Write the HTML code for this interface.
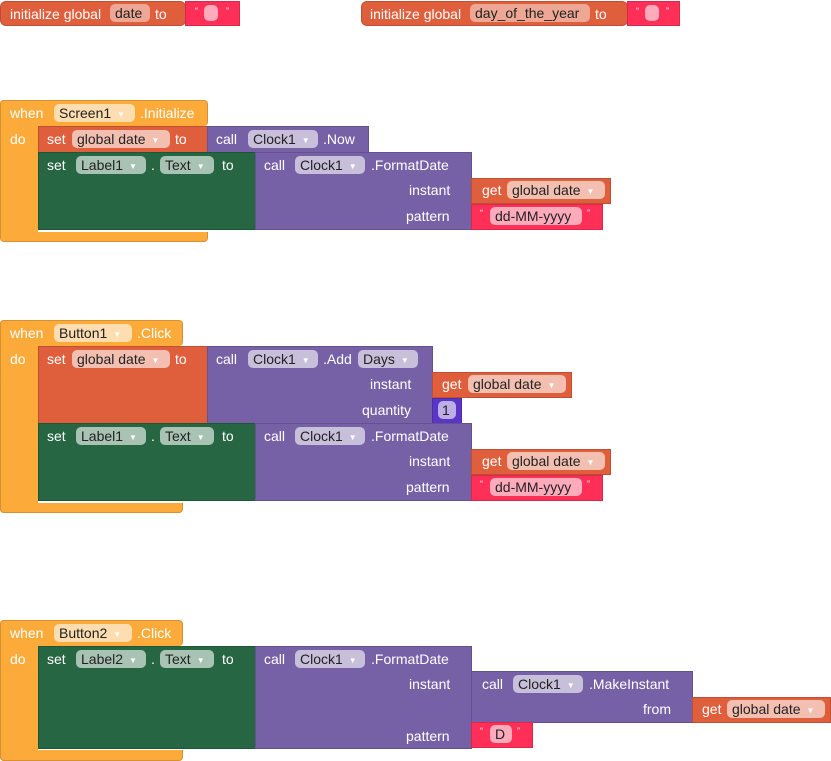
<!DOCTYPE html>
<html><head><meta charset="utf-8"><style>
body{margin:0;width:831px;height:761px;background:#fff;position:relative;overflow:hidden;font-family:"Liberation Sans",sans-serif;font-size:14px;color:#fff}
.b{position:absolute;box-sizing:border-box;border:1px solid rgba(0,0,0,0.15)}
.t{position:absolute;white-space:nowrap;line-height:16px}
.p{position:absolute;height:18px;line-height:18px;border-radius:5px;background:rgba(255,255,255,0.6);color:#222;padding:0 5px;box-sizing:border-box;white-space:nowrap}
.p i{font-style:normal;font-size:8px;color:#fff;margin-left:6px;vertical-align:1px}
.o{background:#fcab3b}.r{background:#df5f3d}.g{background:#266642}.v{background:#7660a6}.k{background:#ff2f57}.n{background:#5b36c6}
.ev{border-radius:4px}
</style></head><body>

<!-- init globals -->
<div class="b r" style="left:0;top:1px;width:186px;height:25px;border-radius:6px"></div>
<div class="t" style="left:10px;top:6px">initialize global</div>
<div class="p" style="left:110px;top:4px;width:40px;background:rgba(255,255,255,0.45)">date</div>
<div class="t" style="left:155px;top:6px">to</div>
<div class="b k" style="left:185px;top:1px;width:55px;height:25px"></div>
<div class="t" style="left:195px;top:3px;font-size:9px">“</div><div class="p" style="left:204px;top:5px;width:14px;height:16px"></div><div class="t" style="left:226px;top:3px;font-size:9px">”</div>

<div class="b r" style="left:361px;top:1px;width:267px;height:25px;border-radius:6px"></div>
<div class="t" style="left:370px;top:6px">initialize global</div>
<div class="p" style="left:470px;top:4px;width:120px;background:rgba(255,255,255,0.45)">day_of_the_year</div>
<div class="t" style="left:595px;top:6px">to</div>
<div class="b k" style="left:627px;top:1px;width:53px;height:25px"></div>
<div class="t" style="left:636px;top:3px;font-size:9px">“</div><div class="p" style="left:645px;top:5px;width:14px;height:16px"></div><div class="t" style="left:666px;top:3px;font-size:9px">”</div>

<!-- Event 1 -->
<div class="b o ev" style="left:0;top:100px;width:208px;height:26px;border-bottom:none"></div>
<div class="b o" style="left:0;top:100px;width:38px;height:141px;border-radius:4px 0 0 4px;border-right:none"></div>
<div class="b o" style="left:0;top:232px;width:208px;height:10px;border-top:none;border-radius:0 0 4px 4px"></div>
<div class="t" style="left:10px;top:105px">when</div>
<div class="p" style="left:54px;top:104px;width:81px">Screen1<i>▼</i></div>
<div class="t" style="left:140px;top:105px">.Initialize</div>
<div class="t" style="left:10px;top:131px">do</div>

<div class="b r" style="left:38px;top:126px;width:170px;height:27px"></div>
<div class="t" style="left:47px;top:131px">set</div>
<div class="p" style="left:72px;top:130px;width:98px">global date<i>▼</i></div>
<div class="t" style="left:175px;top:131px">to</div>
<div class="b v" style="left:207px;top:126px;width:162px;height:27px"></div>
<div class="t" style="left:216px;top:131px">call</div>
<div class="p" style="left:248px;top:130px;width:70px">Clock1<i>▼</i></div>
<div class="t" style="left:323px;top:131px">.Now</div>

<div class="b g" style="left:38px;top:152px;width:218px;height:78px"></div>
<div class="t" style="left:47px;top:157px">set</div>
<div class="p" style="left:76px;top:156px;width:70px">Label1<i>▼</i></div>
<div class="t" style="left:151px;top:157px">.</div>
<div class="p" style="left:160px;top:156px;width:54px">Text<i>▼</i></div>
<div class="t" style="left:222px;top:157px">to</div>
<div class="b v" style="left:255px;top:152px;width:217px;height:78px"></div>
<div class="t" style="left:264px;top:157px">call</div>
<div class="p" style="left:295px;top:156px;width:70px">Clock1<i>▼</i></div>
<div class="t" style="left:371px;top:157px">.FormatDate</div>
<div class="t" style="left:409px;top:182px">instant</div>
<div class="t" style="left:406px;top:208px">pattern</div>
<div class="b r" style="left:471px;top:178px;width:140px;height:26px"></div>
<div class="t" style="left:482px;top:182px">get</div>
<div class="p" style="left:507px;top:181px;width:98px">global date<i>▼</i></div>
<div class="b k" style="left:471px;top:204px;width:132px;height:26px"></div>
<div class="t" style="left:480px;top:205px;font-size:9px">“</div>
<div class="p" style="left:490px;top:207px;width:92px">dd-MM-yyyy</div>
<div class="t" style="left:587px;top:205px;font-size:9px">”</div>

<!-- Event 2 -->
<div class="b o ev" style="left:0;top:320px;width:183px;height:26px;border-bottom:none"></div>
<div class="b o" style="left:0;top:320px;width:38px;height:193px;border-radius:4px 0 0 4px;border-right:none"></div>
<div class="b o" style="left:0;top:503px;width:183px;height:10px;border-top:none;border-radius:0 0 4px 4px"></div>
<div class="t" style="left:10px;top:325px">when</div>
<div class="p" style="left:54px;top:324px;width:78px">Button1<i>▼</i></div>
<div class="t" style="left:137px;top:325px">.Click</div>
<div class="t" style="left:10px;top:351px">do</div>

<div class="b r" style="left:38px;top:346px;width:170px;height:78px"></div>
<div class="t" style="left:47px;top:351px">set</div>
<div class="p" style="left:72px;top:350px;width:98px">global date<i>▼</i></div>
<div class="t" style="left:175px;top:351px">to</div>
<div class="b v" style="left:207px;top:346px;width:226px;height:78px"></div>
<div class="t" style="left:216px;top:351px">call</div>
<div class="p" style="left:248px;top:350px;width:70px">Clock1<i>▼</i></div>
<div class="t" style="left:323px;top:351px">.Add</div>
<div class="p" style="left:358px;top:350px;width:60px">Days<i>▼</i></div>
<div class="t" style="left:370px;top:376px">instant</div>
<div class="t" style="left:362px;top:402px">quantity</div>
<div class="b r" style="left:432px;top:372px;width:140px;height:26px"></div>
<div class="t" style="left:442px;top:376px">get</div>
<div class="p" style="left:468px;top:375px;width:98px">global date<i>▼</i></div>
<div class="b n" style="left:432px;top:398px;width:30px;height:26px"></div>
<div class="p" style="left:438px;top:401px;width:18px;padding:0 4px">1</div>

<div class="b g" style="left:38px;top:423px;width:218px;height:78px"></div>
<div class="t" style="left:47px;top:428px">set</div>
<div class="p" style="left:76px;top:427px;width:70px">Label1<i>▼</i></div>
<div class="t" style="left:151px;top:428px">.</div>
<div class="p" style="left:160px;top:427px;width:54px">Text<i>▼</i></div>
<div class="t" style="left:222px;top:428px">to</div>
<div class="b v" style="left:255px;top:423px;width:217px;height:78px"></div>
<div class="t" style="left:264px;top:428px">call</div>
<div class="p" style="left:295px;top:427px;width:70px">Clock1<i>▼</i></div>
<div class="t" style="left:371px;top:428px">.FormatDate</div>
<div class="t" style="left:409px;top:453px">instant</div>
<div class="t" style="left:406px;top:479px">pattern</div>
<div class="b r" style="left:471px;top:449px;width:140px;height:26px"></div>
<div class="t" style="left:482px;top:453px">get</div>
<div class="p" style="left:507px;top:452px;width:98px">global date<i>▼</i></div>
<div class="b k" style="left:471px;top:475px;width:132px;height:26px"></div>
<div class="t" style="left:480px;top:476px;font-size:9px">“</div>
<div class="p" style="left:490px;top:478px;width:92px">dd-MM-yyyy</div>
<div class="t" style="left:587px;top:476px;font-size:9px">”</div>

<!-- Event 3 -->
<div class="b o ev" style="left:0;top:620px;width:183px;height:26px;border-bottom:none"></div>
<div class="b o" style="left:0;top:620px;width:38px;height:141px;border-radius:4px 0 0 4px;border-right:none"></div>
<div class="b o" style="left:0;top:750px;width:183px;height:11px;border-top:none;border-radius:0 0 4px 4px"></div>
<div class="t" style="left:10px;top:625px">when</div>
<div class="p" style="left:54px;top:624px;width:78px">Button2<i>▼</i></div>
<div class="t" style="left:137px;top:625px">.Click</div>
<div class="t" style="left:10px;top:651px">do</div>

<div class="b g" style="left:38px;top:646px;width:218px;height:103px"></div>
<div class="t" style="left:47px;top:651px">set</div>
<div class="p" style="left:76px;top:650px;width:70px">Label2<i>▼</i></div>
<div class="t" style="left:151px;top:651px">.</div>
<div class="p" style="left:160px;top:650px;width:54px">Text<i>▼</i></div>
<div class="t" style="left:222px;top:651px">to</div>
<div class="b v" style="left:255px;top:646px;width:217px;height:103px"></div>
<div class="t" style="left:264px;top:651px">call</div>
<div class="p" style="left:295px;top:650px;width:70px">Clock1<i>▼</i></div>
<div class="t" style="left:371px;top:651px">.FormatDate</div>
<div class="t" style="left:409px;top:676px">instant</div>
<div class="t" style="left:406px;top:728px">pattern</div>
<div class="b v" style="left:471px;top:671px;width:222px;height:52px"></div>
<div class="t" style="left:482px;top:676px">call</div>
<div class="p" style="left:513px;top:675px;width:70px">Clock1<i>▼</i></div>
<div class="t" style="left:589px;top:676px">.MakeInstant</div>
<div class="t" style="left:643px;top:701px">from</div>
<div class="b r" style="left:692px;top:697px;width:139px;height:26px"></div>
<div class="t" style="left:702px;top:701px">get</div>
<div class="p" style="left:727px;top:700px;width:98px">global date<i>▼</i></div>
<div class="b k" style="left:471px;top:722px;width:62px;height:26px"></div>
<div class="t" style="left:480px;top:723px;font-size:9px">“</div>
<div class="p" style="left:490px;top:725px;width:22px">D</div>
<div class="t" style="left:517px;top:723px;font-size:9px">”</div>
</body></html>
